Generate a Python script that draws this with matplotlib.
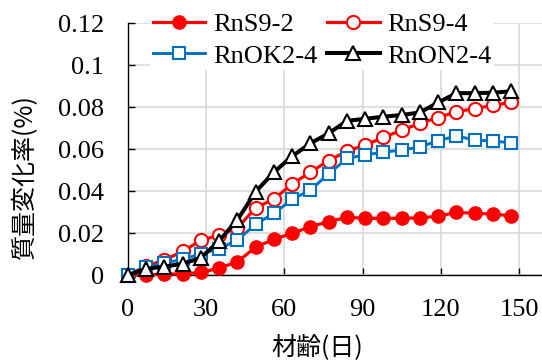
import matplotlib
matplotlib.use("Agg")
import matplotlib.pyplot as plt

# data (days, mass change %)
days = [0, 7, 14, 21, 28, 35, 42, 49, 56, 63, 70, 77, 84, 91, 98, 105, 112, 119, 126, 133, 140, 147]
rns9_2 = [0, 0, 0.0005, 0.0005, 0.0012, 0.0033, 0.0063, 0.0133, 0.017, 0.0199, 0.023, 0.0254,
          0.0275, 0.027, 0.027, 0.027, 0.0272, 0.028, 0.0298, 0.0294, 0.029, 0.0282]
rns9_4 = [0, 0.0043, 0.0071, 0.0113, 0.0165, 0.019, 0.0225, 0.032, 0.0362, 0.0433, 0.049, 0.0545,
          0.059, 0.0619, 0.0655, 0.069, 0.0722, 0.075, 0.0778, 0.0792, 0.0808, 0.0822]
rnok2_4 = [0, 0.0036, 0.0057, 0.0075, 0.0101, 0.0125, 0.0167, 0.0242, 0.0294, 0.036, 0.0405, 0.0482,
           0.0555, 0.0572, 0.0585, 0.0595, 0.061, 0.064, 0.0662, 0.0643, 0.0637, 0.063]
rnon2_4 = [0, 0.003, 0.004, 0.0054, 0.0082, 0.0163, 0.0263, 0.0397, 0.049, 0.0566, 0.0627, 0.0675,
           0.0734, 0.0744, 0.0754, 0.0762, 0.0774, 0.0822, 0.0866, 0.0866, 0.0868, 0.0875]

x_ticks = [0, 30, 60, 90, 120, 150]
y_ticks = [0, 0.02, 0.04, 0.06, 0.08, 0.1, 0.12]
y_ticklabels = ["0", "0.02", "0.04", "0.06", "0.08", "0.1", "0.12"]

plt.rcParams["font.family"] = ["Liberation Serif", "Noto Sans CJK JP"]
jp = ["Noto Sans CJK JP", "DejaVu Sans"]

fig = plt.figure(figsize=(5.42, 3.6), dpi=100)
ax = fig.add_axes([128 / 542, 1 - 275 / 360, 1 - 128 / 542, (275 - 23) / 360])

red = "#ff0000"
blue = "#0070c0"

l1, = ax.plot(days, rns9_2, color=red, lw=2.3, marker="o", ms=9.5, mfc=red, mec=red,
              label="RnS9-2", clip_on=False, zorder=3)
l2, = ax.plot(days, rns9_4, color=red, lw=2.3, marker="o", ms=9.5, mfc="white", mec=red, mew=1.5,
              label="RnS9-4", clip_on=False, zorder=4)
l3, = ax.plot(days, rnok2_4, color=blue, lw=2.1, marker="s", ms=9, mfc="white", mec=blue, mew=1.5,
              label="RnOK2-4", clip_on=False, zorder=5)
l4, = ax.plot(days, rnon2_4, color="black", lw=2.9, marker="^", ms=10.5, mfc="white", mec="black", mew=1.5,
              label="RnON2-4", clip_on=False, zorder=6)

ax.set_xlim(0, 158.8)
ax.set_ylim(0, 0.12)
ax.set_xticks(x_ticks)
ax.set_yticks(y_ticks)
ax.set_yticklabels(y_ticklabels)
ax.grid(True, color="#d9d9d9", lw=1.2)
ax.set_axisbelow(True)

for s in ["top", "right"]:
    ax.spines[s].set_visible(False)
for s in ["left", "bottom"]:
    ax.spines[s].set_color("black")
    ax.spines[s].set_linewidth(1.0)

ax.tick_params(direction="in", length=5, width=1.0, labelsize=19)
ax.tick_params(axis="x", pad=17)
ax.tick_params(axis="y", pad=17)

fig.text(25 / 542, 1 - 177 / 360, "質量変化率(%)", rotation=90, ha="center", va="center",
         fontsize=18, family=jp)
fig.text(317 / 542, 1 - 348 / 360, "材齢(日)", ha="center", va="center",
         fontsize=18, family=jp)

# row-major order like the reference: matplotlib fills columns first
leg = ax.legend([l1, l3, l2, l4], ["RnS9-2", "RnOK2-4", "RnS9-4", "RnON2-4"],
                loc="upper left", bbox_to_anchor=(150 / 542, 1 - 10 / 360), bbox_transform=fig.transFigure,
                ncol=2, prop={"family": "Liberation Serif", "size": 19}, handlelength=2.0, handletextpad=0.3,
                columnspacing=0.35, labelspacing=0.3, borderpad=0.1, borderaxespad=0,
                frameon=True, fancybox=False)
leg.get_frame().set_facecolor("white")
leg.get_frame().set_edgecolor("none")
leg.get_frame().set_alpha(1)
leg.set_zorder(10)

fig.savefig("out.png", dpi=100)
